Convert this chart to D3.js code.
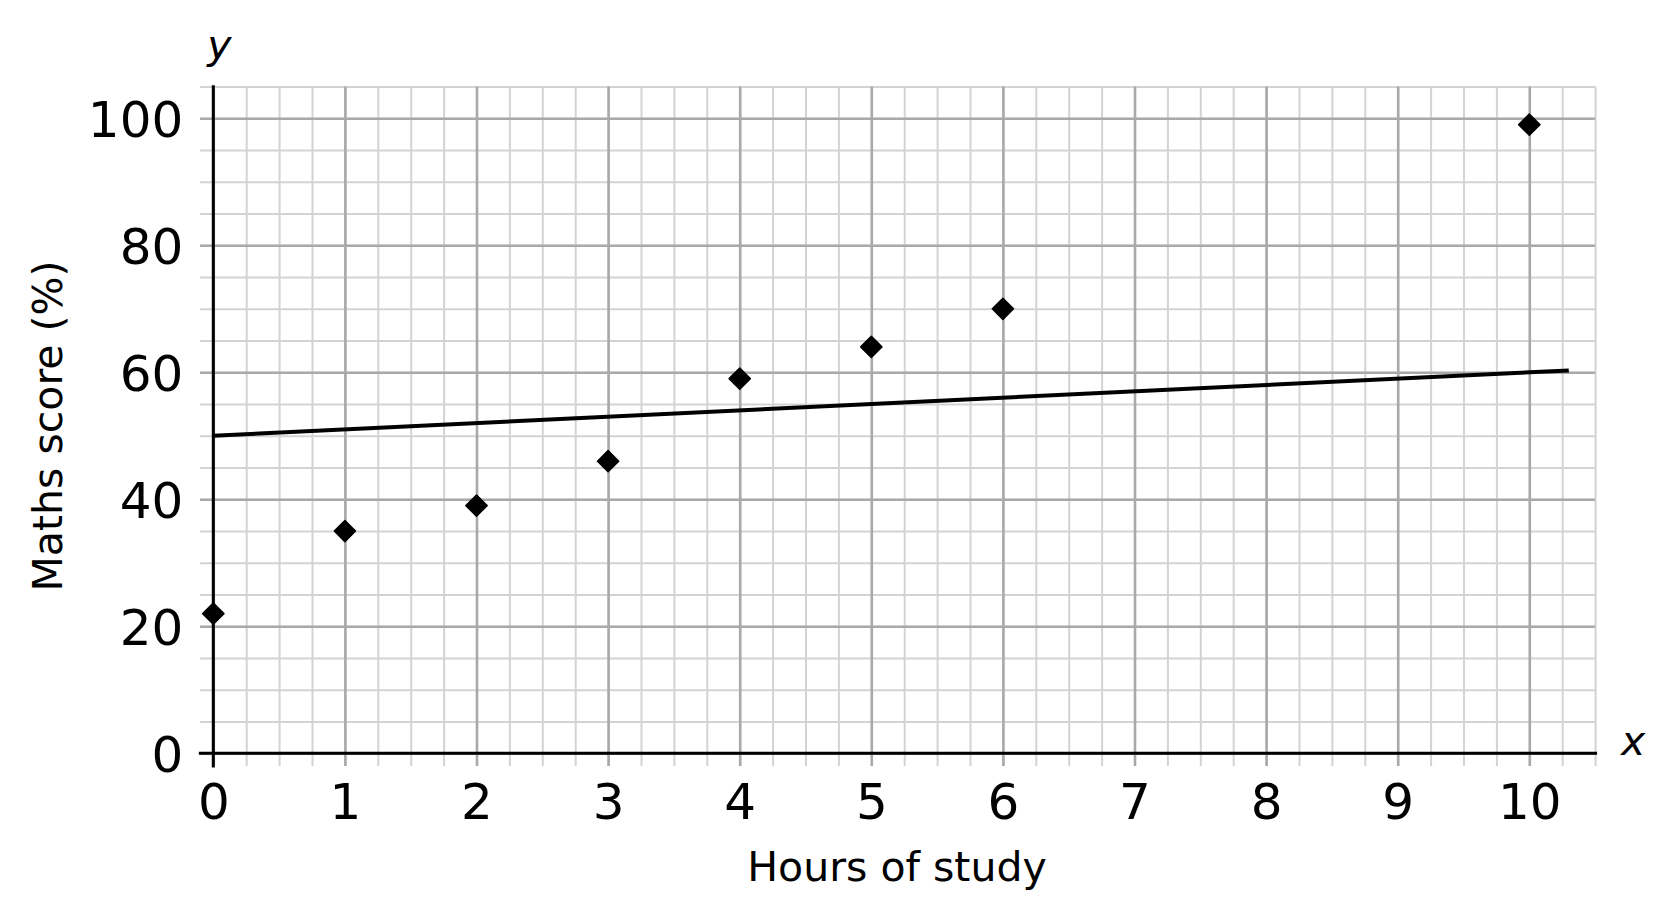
<!DOCTYPE html>
<html>
<head>
<meta charset="utf-8">
<script src="https://cdn.jsdelivr.net/npm/d3@7"></script>
<style>
  html, body { margin: 0; padding: 0; background: #fff; }
  svg { display: block; font-family: "DejaVu Sans", sans-serif; }
</style>
</head>
<body>
<svg id="chart" width="1679" height="919"></svg>
<script>
// ---- data ----
const hours  = [0, 1, 2, 3, 4, 5, 6, 10];
const scores = [22, 35, 39, 46, 59, 64, 70, 99];
const lineX  = [0, 10.3];
const lineY  = [50, 60.3];
const xTicks = [0, 1, 2, 3, 4, 5, 6, 7, 8, 9, 10];
const yTicks = [0, 20, 40, 60, 80, 100];
const xLabel = "Hours of study";
const yLabel = "Maths score (%)";

// ---- scales ----
const svg = d3.select("#chart");
svg.append("rect").attr("width", 1679).attr("height", 919).attr("fill", "#fff");

const x = d3.scaleLinear().domain([0, 10]).range([213.3, 1529.3]);
const y = d3.scaleLinear().domain([0, 100]).range([753.3, 118.3]);

const xMin = -0.1, xMax = 10.5, yMin = -2, yMax = 105;

// ---- grid ----
function vGrid(step, color, width) {
  const vals = d3.range(0, xMax + 1e-9, step);
  const g = svg.append("g").attr("transform", `translate(0,${y(yMin)})`)
    .call(d3.axisBottom(x).tickValues(vals).tickSize(-(y(yMin) - y(yMax))).tickFormat(""));
  g.select(".domain").remove();
  g.selectAll(".tick line").attr("stroke", color).attr("stroke-width", width);
}
function hGrid(step, color, width) {
  const vals = d3.range(0, yMax + 1e-9, step);
  const g = svg.append("g").attr("transform", `translate(${x(xMin)},0)`)
    .call(d3.axisLeft(y).tickValues(vals).tickSize(-(x(xMax) - x(xMin))).tickFormat(""));
  g.select(".domain").remove();
  g.selectAll(".tick line").attr("stroke", color).attr("stroke-width", width);
}
vGrid(0.25, "#d3d3d3", 2);
hGrid(5, "#d3d3d3", 2);
vGrid(1, "#a9a9a9", 2.6);
hGrid(20, "#a9a9a9", 2.6);

// ---- axis lines ----
svg.append("line")
  .attr("x1", x(-0.11)).attr("x2", x(10.515))
  .attr("y1", y(0)).attr("y2", y(0))
  .attr("stroke", "#000").attr("stroke-width", 3);
svg.append("line")
  .attr("x1", x(0)).attr("x2", x(0))
  .attr("y1", y(105.2)).attr("y2", y(-2.25))
  .attr("stroke", "#000").attr("stroke-width", 3);

// ---- tick labels ----
const xa = svg.append("g").attr("transform", `translate(0,${y(0)})`)
  .call(d3.axisBottom(x).tickValues(xTicks).tickSize(0).tickPadding(30).tickFormat(d3.format("d")));
xa.select(".domain").remove();
xa.selectAll("text").attr("font-size", 50).attr("fill", "#000").attr("font-family", "DejaVu Sans");

const ya = svg.append("g").attr("transform", `translate(${x(0)},0)`)
  .call(d3.axisLeft(y).tickValues(yTicks).tickSize(0).tickPadding(30).tickFormat(d3.format("d")));
ya.select(".domain").remove();
ya.selectAll("text").attr("font-size", 50).attr("fill", "#000").attr("font-family", "DejaVu Sans").attr("dy", "0.36em");

// ---- axis titles ----
svg.append("text").attr("x", 897).attr("y", 881)
  .attr("text-anchor", "middle").attr("font-size", 41).text(xLabel);
svg.append("text").attr("transform", "translate(61.7,426) rotate(-90)")
  .attr("text-anchor", "middle").attr("font-size", 41).text(yLabel);
svg.append("text").attr("x", 219.5).attr("y", 59)
  .attr("text-anchor", "middle").attr("font-size", 41).attr("font-style", "italic").text("y");
svg.append("text").attr("x", 1621).attr("y", 755)
  .attr("text-anchor", "start").attr("font-size", 41).attr("font-style", "italic").text("x");

// ---- regression line ----
const lineData = lineX.map((d, i) => [d, lineY[i]]);
svg.append("path").datum(lineData)
  .attr("d", d3.line().x(d => x(d[0])).y(d => y(d[1])))
  .attr("fill", "none").attr("stroke", "#000").attr("stroke-width", 4);

// ---- points ----
const pts = hours.map((h, i) => ({ h, s: scores[i] }));
svg.append("g").selectAll("path").data(pts).join("path")
  .attr("transform", d => `translate(${x(d.h)},${y(d.s)}) rotate(45)`)
  .attr("d", d3.symbol().type(d3.symbolSquare).size(225))
  .attr("fill", "#000").attr("stroke", "#000").attr("stroke-width", 1.5).attr("stroke-linejoin", "round");
</script>
</body>
</html>
